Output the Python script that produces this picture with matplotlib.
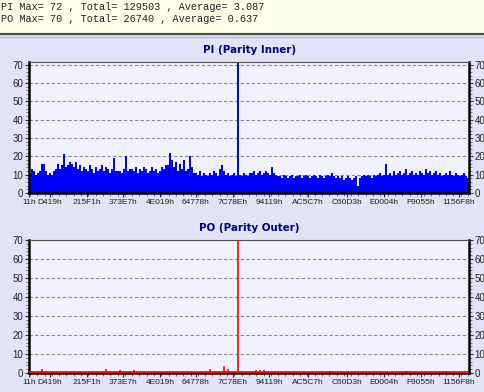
import numpy as np
import matplotlib
matplotlib.use("Agg")
import matplotlib.pyplot as plt
from matplotlib.ticker import MultipleLocator

# header summary lines
pi_summary = "PI Max= 72 , Total= 129503 , Average= 3.087"
po_summary = "PO Max= 70 , Total= 26740 , Average= 0.637"

# x axis labels (LBA, hex) and where they sit, in sample units
x_labels = ["11h", "D419h", "215F1h", "373E7h", "4E019h", "64778h", "7C78Eh",
            "94119h", "AC5C7h", "C60D3h", "E0004h", "F9055h", "1156F8h"]
x_label_pos = [-0.5, 10, 28.5, 46.5, 65, 83, 101.5, 119.5, 139, 158.5, 177, 195.5, 214.5]

# PI errors per sample
pi_values = [
    11, 13, 12, 10, 11, 12, 16, 16,
    12, 10, 11, 10, 12, 13, 16,
    13, 15, 21, 14, 15, 17,
    16, 14, 17, 13, 15, 12, 14, 13,
    12, 15, 13, 11, 14, 12, 13, 15,
    12, 14, 13, 11, 13, 19, 12, 12,
    12, 11, 13, 20, 12, 13,
    13, 12, 14, 11, 13, 12, 14, 13, 11, 12, 14, 12, 13, 11, 12, 14, 13, 15,
    15, 22, 18, 14, 17, 12, 16, 13, 18, 12,
    13, 20, 14, 11,
    11, 10, 12, 9, 11, 10, 9, 11, 10, 12, 11, 9, 13, 15, 12, 10, 11,
    9, 10, 11, 9,
    72,
    10, 9, 11, 10, 9, 11,
    11, 12, 10, 11, 12, 10, 11, 12, 11, 10, 14, 11, 10, 9,
    9, 8, 10, 9, 8, 9, 10, 8, 9, 9, 10, 8, 9, 10, 9, 8, 9, 10, 9, 8,
    10, 9, 8, 9, 10, 9, 11, 9, 8,
    9, 8, 9, 7, 8, 9, 8, 7, 8, 9, 4,
    8, 9, 10, 9, 10, 9, 8, 10, 9, 10, 11, 9, 10, 16,
    10, 11, 9, 12, 10, 11, 12, 10, 11, 13, 10, 11, 12, 10, 11, 10, 12, 11, 10, 13,
    11, 12, 10, 11, 12, 10, 11, 9, 10, 11, 10, 12, 10, 9, 11, 10, 9, 10, 11, 9, 8,
]

# PO errors: only the non-zero samples
po_index = [6, 38, 45, 52, 90, 97, 99, 104, 113, 115, 117, 150, 159, 188, 208]
po_nonzero = [2, 2, 1.5, 1.5, 2, 3.5, 2, 70, 1.5, 1.5, 1.5, 1, 1, 1, 1]

n = len(pi_values)
x = np.arange(n)
po_values = np.zeros(n)
po_values[po_index] = po_nonzero

outer_bg = "#e2e2f8"
plot_bg = "#f1f1fd"

fig = plt.figure(figsize=(4.85, 3.92), dpi=100, facecolor=outer_bg)

# cream header strip with the summary text
fig.patches.append(plt.Rectangle((0, 0.913), 1, 0.087, transform=fig.transFigure,
                                 facecolor="#ffffea", edgecolor="none", zorder=0))
fig.add_artist(plt.Line2D([0, 1], [0.912, 0.912], transform=fig.transFigure,
                          color="#505050", lw=1.6))
fig.add_artist(plt.Line2D([0, 1], [0.906, 0.906], transform=fig.transFigure,
                          color="#b8b8c8", lw=1.0))
fig.text(0.002, 0.982, pi_summary, family="Liberation Mono", fontsize=7.4,
         color="#202020", va="center", ha="left")
fig.text(0.002, 0.951, po_summary, family="Liberation Mono", fontsize=7.4,
         color="#202020", va="center", ha="left")


def style_axes(ax, top):
    ax.set_facecolor(plot_bg)
    ax.set_xlim(-0.5, n - 0.5)
    ax.set_ylim(0, top)
    ax.set_yticks(range(0, 80, 10))
    ax.yaxis.set_minor_locator(MultipleLocator(2))
    ax.set_xticks(x_label_pos)
    ax.set_xticklabels(x_labels)
    ax.xaxis.set_minor_locator(MultipleLocator(3.65))
    ax.tick_params(axis="both", which="major", labelsize=6.0, length=3, width=0.8,
                   color="#303030", pad=1.5, labelcolor="#202020")
    ax.tick_params(axis="both", which="minor", length=2, width=0.6, color="#606060")
    ax.tick_params(axis="y", right=True, labelright=True, which="both")
    ax.tick_params(axis="y", which="major", labelsize=7.0, pad=1)
    ax.grid(axis="y", linestyle=(0, (3, 2)), color="#8a8a8a", lw=0.8)
    ax.set_axisbelow(True)
    for side in ["left", "right", "bottom"]:
        ax.spines[side].set_linewidth(1.8)
        ax.spines[side].set_color("black")
    ax.spines["top"].set_linewidth(0.8)
    ax.spines["top"].set_color("#505050")
    for lbl in ax.get_xticklabels() + ax.get_yticklabels():
        lbl.set_family("Liberation Sans")


ax1 = fig.add_axes([0.0598, 0.508, 0.907, 0.334])
ax1.bar(x, pi_values, width=1.0, color="#0000ff", linewidth=0)
style_axes(ax1, 71.5)
fig.text(0.514, 0.873, "PI (Parity Inner)", fontsize=7.4, fontweight="bold",
         color="#000080", ha="center", va="center")

ax2 = fig.add_axes([0.0598, 0.0485, 0.907, 0.339])
ax2.vlines(x, 0, po_values, color="#ff0000", lw=1.2, zorder=3)
ax2.axhline(0.4, color="#ff0000", lw=1.2, zorder=3)
style_axes(ax2, 70)
fig.text(0.514, 0.418, "PO (Parity Outer)", fontsize=7.4, fontweight="bold",
         color="#000080", ha="center", va="center")

fig.savefig("out.png", dpi=100, facecolor=outer_bg)
